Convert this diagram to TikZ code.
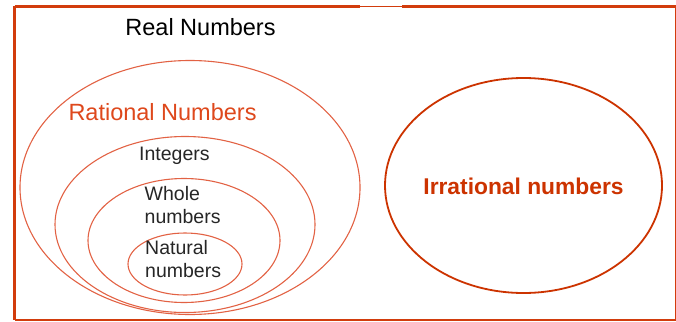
\documentclass[tikz,border=0pt]{standalone}
\usepackage{fontspec}
\setmainfont{Liberation Sans}
\usetikzlibrary{shapes.geometric}
\definecolor{framec}{RGB}{210,60,12}
\definecolor{ellc}{RGB}{226,98,68}
\definecolor{irrc}{RGB}{204,51,0}
\definecolor{ratc}{RGB}{222,72,28}
\definecolor{txtc}{RGB}{38,38,38}
\tikzset{
  setell/.style={draw=ellc, line width=1.1pt},
  irrell/.style={draw=irrc, line width=1.8pt},
  framel/.style={draw=framec},
  lbl/.style={inner sep=0pt, anchor=base west, text=txtc, font=\fontsize{19.5}{23.5}\selectfont},
}
\begin{document}
\begin{tikzpicture}[x=1pt,y=-1pt]
\useasboundingbox (0,0) rectangle (676,321);
% frame
\coordinate (tl) at (14.5,6.5);
\coordinate (tm1) at (360,6.5);
\coordinate (tm2) at (402,6.5);
\coordinate (tr) at (675.5,6.5);
\coordinate (br) at (675.5,319.5);
\coordinate (bl) at (14.5,319.5);
\draw[framel, line width=3pt] (tl) -- (tm1);
\draw[framel, line width=1.2pt] (tm1) -- (tm2);
\draw[framel, line width=3pt] (tm2) -- (tr);
\draw[framel, line width=1pt] (tr) -- (br);
\draw[framel, line width=2pt] (br) -- (bl);
\draw[framel, line width=3.5pt] (bl) -- (tl);
% left nested sets
\node[setell, ellipse, minimum width=340pt, minimum height=254pt, inner sep=0pt] (rat) at (190,187.5) {};
\node[setell, ellipse, minimum width=260pt, minimum height=176pt, inner sep=0pt] (int) at (185,224.5) {};
\node[setell, ellipse, minimum width=192pt, minimum height=124pt, inner sep=0pt] (who) at (184,240.5) {};
\node[setell, ellipse, minimum width=114pt, minimum height=62pt, inner sep=0pt] (nat) at (185,264) {};
% right set
\node[irrell, ellipse, minimum width=277pt, minimum height=215pt, inner sep=0pt] (irr) at (523.5,185.5) {};
% labels
\node[inner sep=0pt, anchor=base, font=\fontsize{23.5}{28}\selectfont] (real) at (200.5,36) {Real Numbers};
\node[inner sep=0pt, anchor=base west, text=ratc, font=\fontsize{23.5}{28}\selectfont] (ratl) at (68.3,120) {Rational Numbers};
\node[lbl] (intl) at (139,160) {Integers};
\node[lbl] (whol1) at (144.5,200) {Whole};
\node[lbl] (whol2) at (144.5,223) {numbers};
\node[lbl] (natl1) at (145,254) {Natural};
\node[lbl] (natl2) at (145,277) {numbers};
\node[inner sep=0pt, anchor=base, text=irrc, font=\bfseries\fontsize{22.8}{27}\selectfont] (irrl) at (523.5,194) {Irrational numbers};
\end{tikzpicture}
\end{document}
